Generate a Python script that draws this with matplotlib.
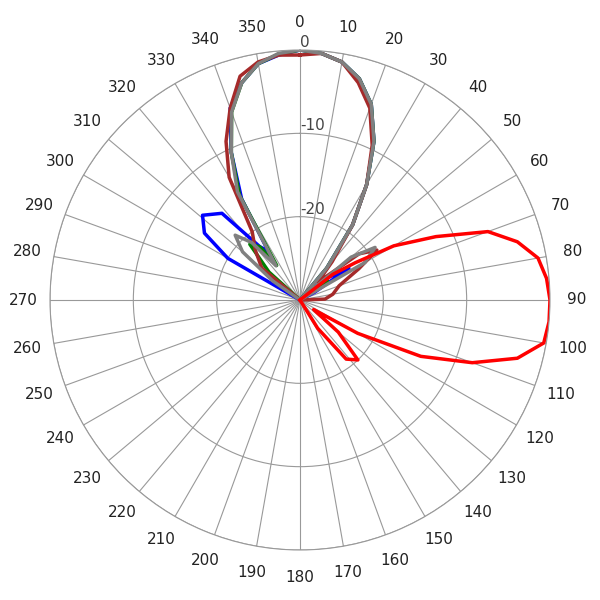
import matplotlib
matplotlib.use('Agg')
import matplotlib.pyplot as plt
import numpy as np

# ── DATA (angle in degrees, level in dB) ─────────────────────────────────────
blue_ang = [0, 5, 10, 15, 20, 25, 30, 35, 40, 45, 50, 57, 62, 70, 295, 300, 305, 311, 318, 323, 327, 330, 335, 340, 345, 350, 355, 360]
blue_db  = [0, -0.3, -1, -2.5, -5, -9, -14, -19, -25, -30, -26, -23, -28, -30, -30, -20, -16, -14.5, -16, -22, -23, -16, -10.5, -5.5, -3, -1.2, -0.5, 0]

green_ang = [0, 5, 10, 15, 20, 25, 30, 35, 40, 45, 55, 65, 305, 312, 318, 323, 326, 330, 335, 340, 345, 350, 355, 360]
green_db  = [0, -0.3, -1, -2.5, -5, -9, -14, -19, -25, -30, -26, -30, -30, -25, -21, -22, -25, -15.5, -10.5, -6, -3, -1.2, -0.4, 0]

brown_ang = [0, 5, 10, 15, 20, 25, 30, 35, 40, 45, 52, 57, 62, 70, 80, 88, 95, 300, 310, 318, 325, 330, 335, 340, 345, 350, 355, 360]
brown_db  = [-0.6, -0.3, -1, -3, -5.5, -9.5, -14, -19, -24, -27, -21, -19, -22, -25, -26, -27, -30, -30, -24, -22, -20, -13, -9, -5.5, -2.2, -1, -0.5, -0.6]

gray_ang = [0, 5, 10, 15, 20, 25, 30, 35, 40, 45, 50, 55, 60, 65, 300, 305, 310, 315, 320, 325, 330, 335, 340, 345, 350, 355, 360]
gray_db  = [0, -0.3, -1, -2.5, -5, -9, -14, -19, -25, -30, -22, -19, -21, -30, -30, -26, -21, -19, -21, -25, -15, -10.5, -6, -3, -1.2, -0.3, 0]

red_ang = [0, 45, 52, 56, 60, 65, 70, 75, 80, 85, 90, 95, 100, 105, 110, 115, 120, 125, 130, 136, 142, 148, 152, 360]
red_db  = [-30, -30, -25, -22, -17, -12, -6, -3, -1, -0.3, 0, 0, -0.3, -3, -8, -14, -22, -28, -24, -20, -21, -26, -30, -30]

series = [(blue_ang, blue_db, '#0000ff'),
          (green_ang, green_db, '#008000'),
          (brown_ang, brown_db, '#a52a2a'),
          (gray_ang, gray_db, '#808080'),
          (red_ang, red_db, '#ff0000')]

angle_labels = [str(a) for a in range(0, 360, 10)]

# ── PLOT ─────────────────────────────────────────────────────────────────────
fig = plt.figure(figsize=(6, 6), dpi=100)
ax = fig.add_axes([50/600, 50/600, 500/600, 500/600], projection='polar')
ax.set_theta_zero_location('N')
ax.set_theta_direction(-1)
ax.set_ylim(-30, 0)

for ang, db, col in series:
    ax.plot(np.radians(ang), db, color=col, linewidth=2.5)

ax.set_thetagrids(range(0, 360, 10), angle_labels, fontsize=11, color='#222222')
ax.tick_params(axis='x', pad=9)
ax.set_yticks([-30, -20, -10, 0])
ax.set_yticklabels(['', '-20', '-10', '0'], fontsize=11, color='#444444')
ax.set_rlabel_position(0)
ax.grid(True, color='#999999', linewidth=0.8)
ax.spines['polar'].set_color('#999999')
ax.spines['polar'].set_linewidth(0.8)

plt.savefig('out.png', dpi=100, facecolor='white')
